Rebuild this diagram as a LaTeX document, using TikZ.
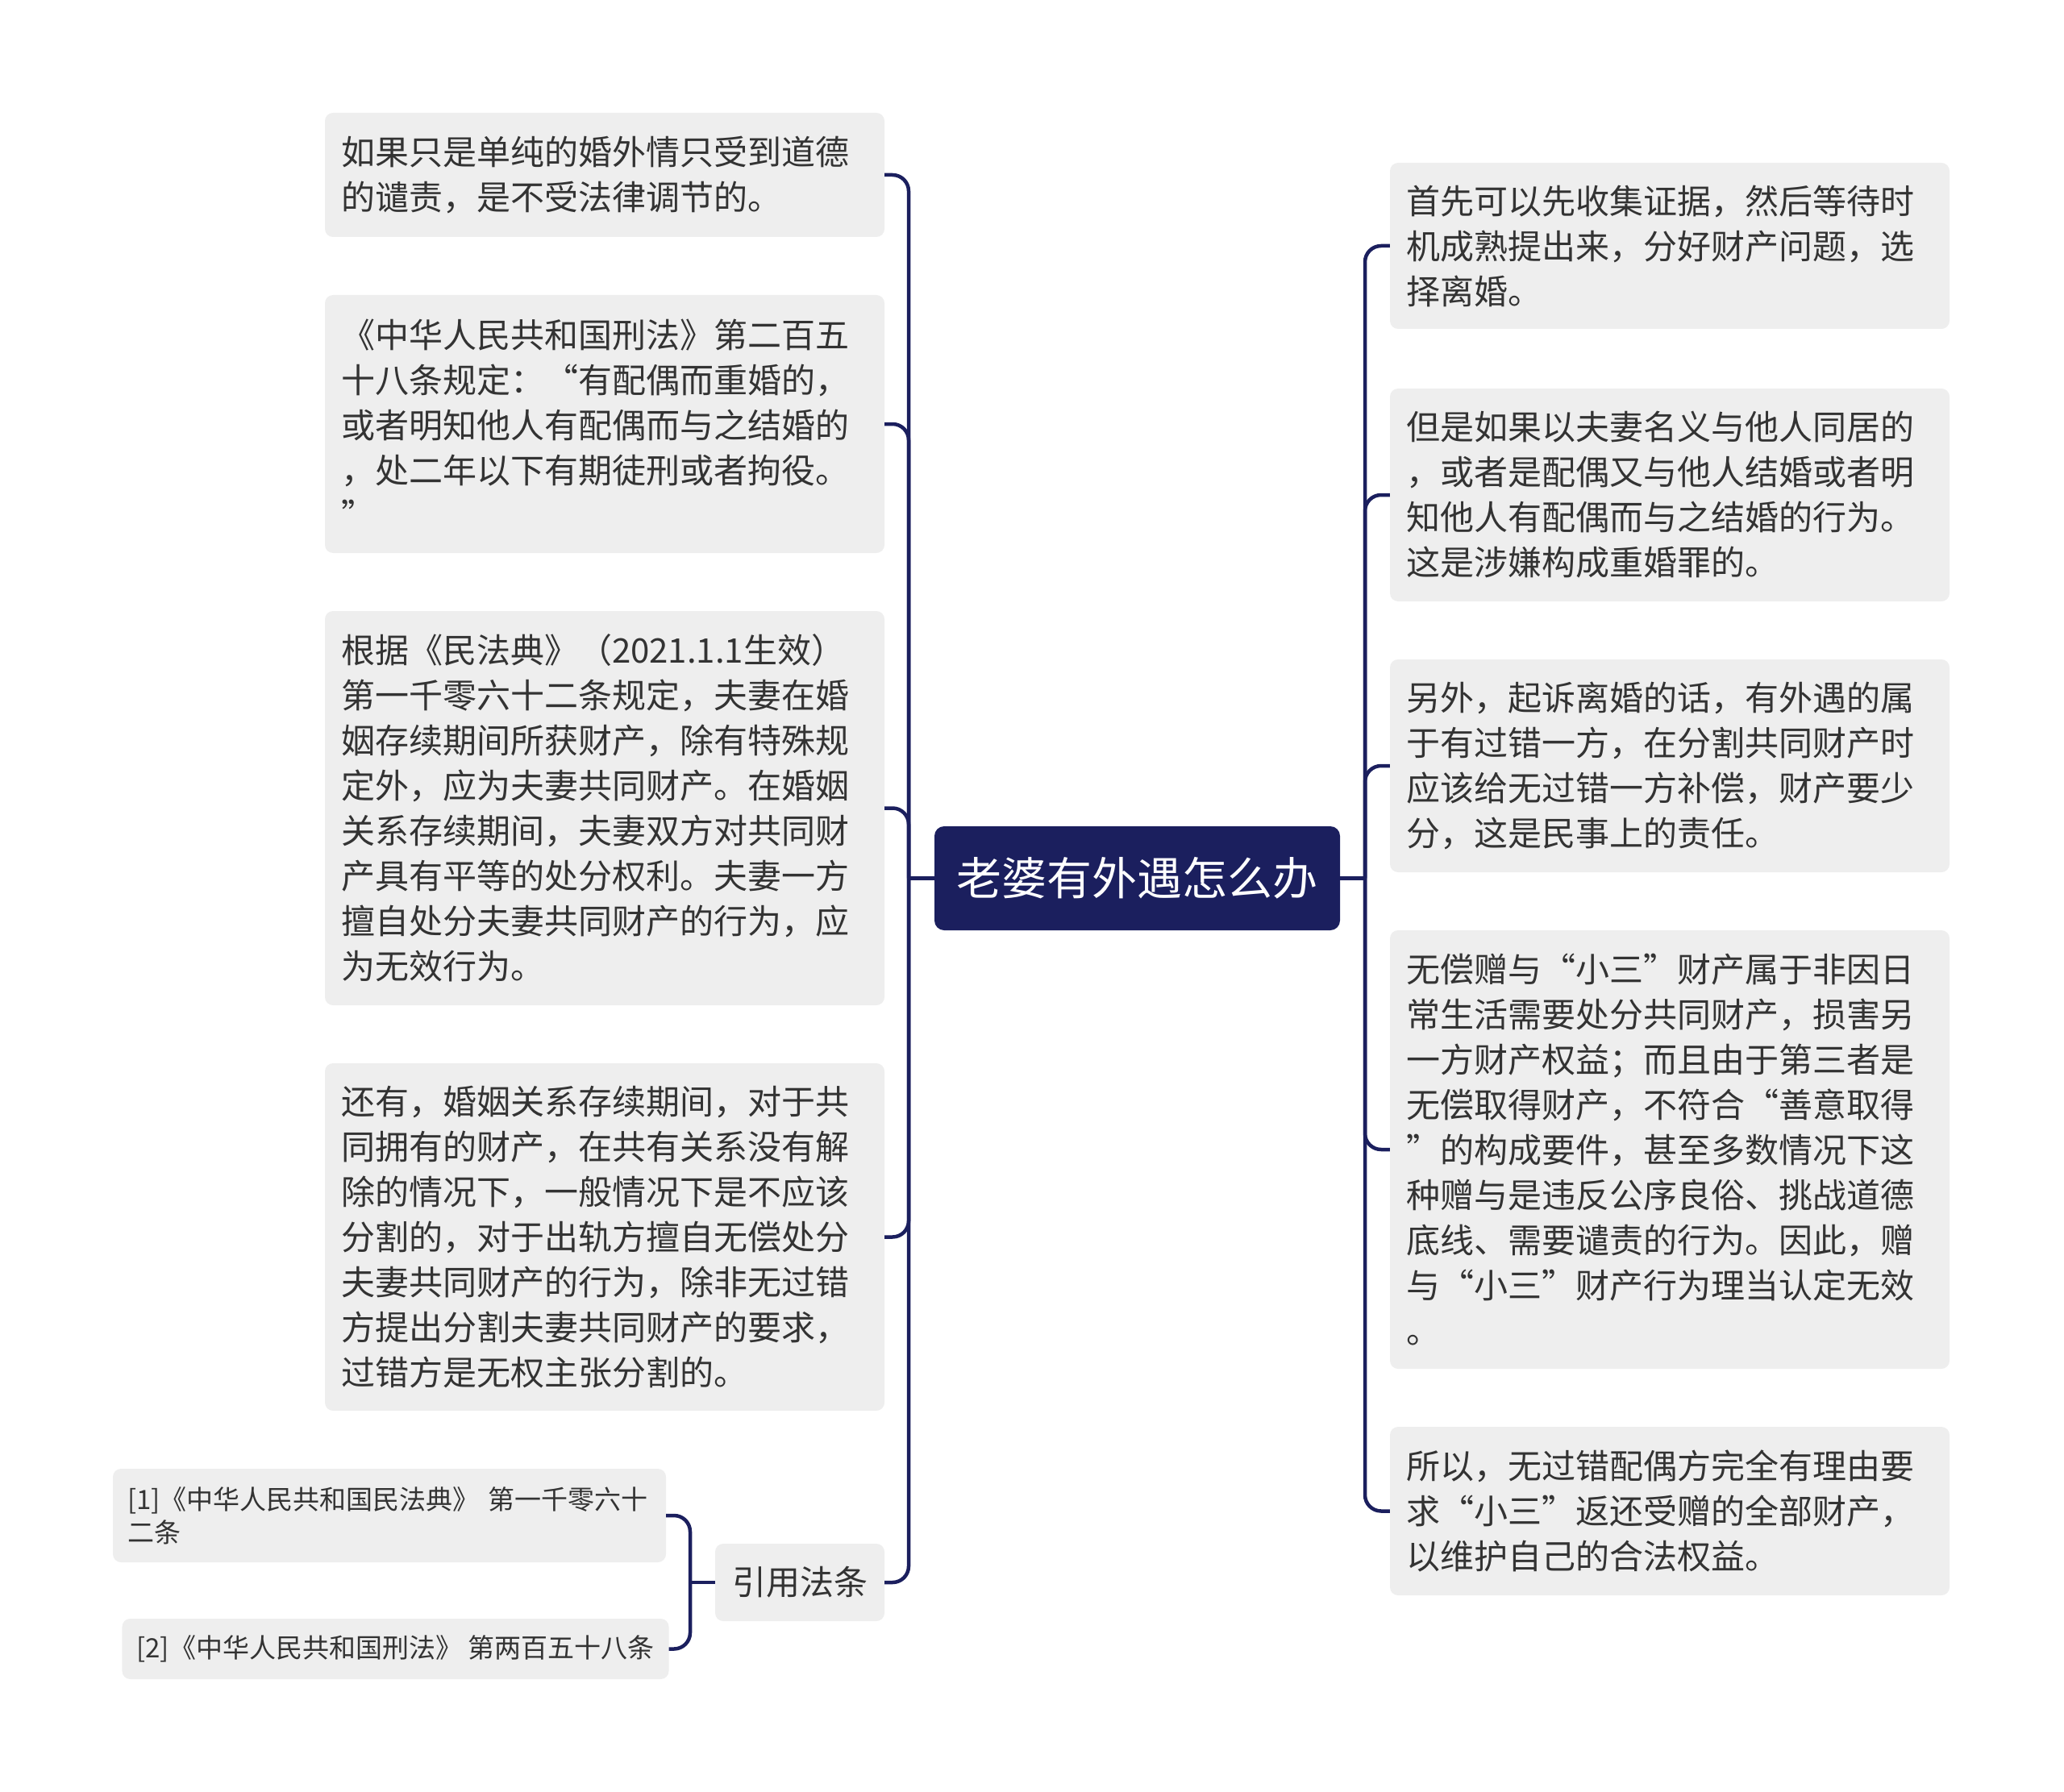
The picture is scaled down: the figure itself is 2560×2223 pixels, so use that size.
\documentclass[tikz,border=0pt]{standalone}
\usepackage{fontspec}
\newfontfamily\cjk{Noto Sans CJK SC}
\definecolor{navy}{HTML}{1B1F5E}
\definecolor{boxgray}{HTML}{EEEEEE}
\definecolor{txt}{HTML}{333333}
\begin{document}
\begin{tikzpicture}[x=1pt,y=-1pt,
  leaf/.style={fill=boxgray, rounded corners=10pt, inner xsep=20pt, inner ysep=0pt,
    text width=654pt, align=left, text=txt, font={\cjk\fontsize{42pt}{56pt}\selectfont}},
  refbox/.style={fill=boxgray, rounded corners=10pt, inner xsep=18pt, inner ysep=0pt,
    text=txt, font={\cjk\fontsize{33pt}{41pt}\selectfont}},
  rootbox/.style={fill=navy, rounded corners=12pt, text=white, minimum width=503pt,
    minimum height=129pt, inner sep=0pt, font={\cjk\fontsize{56pt}{60pt}\selectfont}},
  conn/.style={draw=navy, line width=4.5pt}]
\useasboundingbox (0,0) rectangle (2560,2223);

% root
\node[rootbox] (root) at (1410.5,1089.5) {老婆有外遇怎么办};

% left side
\node[leaf, minimum height=154pt] (L1) at (750,217)
 {如果只是单纯的婚外情只受到道德\\的谴责，是不受法律调节的。};
\node[leaf, minimum height=320pt] (L2) at (750,526)
 {《中华人民共和国刑法》第二百五\\十八条规定：“有配偶而重婚的，\\或者明知他人有配偶而与之结婚的\\，处二年以下有期徒刑或者拘役。\\”};
\node[leaf, minimum height=489pt] (L3) at (750,1002.5)
 {根据《民法典》（2021.1.1生效）\\第一千零六十二条规定，夫妻在婚\\姻存续期间所获财产，除有特殊规\\定外，应为夫妻共同财产。在婚姻\\关系存续期间，夫妻双方对共同财\\产具有平等的处分权利。夫妻一方\\擅自处分夫妻共同财产的行为，应\\为无效行为。};
\node[leaf, minimum height=431pt] (L4) at (750,1534.5)
 {还有，婚姻关系存续期间，对于共\\同拥有的财产，在共有关系没有解\\除的情况下，一般情况下是不应该\\分割的，对于出轨方擅自无偿处分\\夫妻共同财产的行为，除非无过错\\方提出分割夫妻共同财产的要求，\\过错方是无权主张分割的。};
\node[fill=boxgray, rounded corners=10pt, minimum width=210pt, minimum height=96pt,
  inner sep=0pt, text=txt, font={\cjk\fontsize{42pt}{50pt}\selectfont}] (cite) at (992,1963) {引用法条};
\node[refbox, text width=650pt, align=left, minimum height=116pt] (ref1) at (483,1880)
 {[1]《中华人民共和国民法典》~第一千零六十\\二条};
\node[refbox, minimum width=671pt, minimum height=75pt] (ref2) at (490.5,2045.5)
 {[2]《中华人民共和国刑法》~第两百五十八条};

% right side
\node[leaf, minimum height=206pt] (R1) at (2071,305)
 {首先可以先收集证据，然后等待时\\机成熟提出来，分好财产问题，选\\择离婚。};
\node[leaf, minimum height=264pt] (R2) at (2071,614)
 {但是如果以夫妻名义与他人同居的\\，或者是配偶又与他人结婚或者明\\知他人有配偶而与之结婚的行为。\\这是涉嫌构成重婚罪的。};
\node[leaf, minimum height=264pt] (R3) at (2071,950)
 {另外，起诉离婚的话，有外遇的属\\于有过错一方，在分割共同财产时\\应该给无过错一方补偿，财产要少\\分，这是民事上的责任。};
\node[leaf, minimum height=544pt] (R4) at (2071,1426)
 {无偿赠与“小三”财产属于非因日\\常生活需要处分共同财产，损害另\\一方财产权益；而且由于第三者是\\无偿取得财产，不符合“善意取得\\”的构成要件，甚至多数情况下这\\种赠与是违反公序良俗、挑战道德\\底线、需要谴责的行为。因此，赠\\与“小三”财产行为理当认定无效\\。};
\node[leaf, minimum height=209pt] (R5) at (2071,1874.5)
 {所以，无过错配偶方完全有理由要\\求“小三”返还受赠的全部财产，\\以维护自己的合法权益。};

% connectors
\coordinate (LT) at (1127,1089.5);
\coordinate (RT) at (1693,1089.5);
\coordinate (CT) at (856,1963);
\draw[conn] (root.west) -- (LT);
\draw[conn] (root.east) -- (RT);
\foreach \n in {L1,L2,L3,L4,cite} \draw[conn, rounded corners=20pt] (LT) |- (\n.east);
\foreach \n in {R1,R2,R3,R4,R5} \draw[conn, rounded corners=20pt] (RT) |- (\n.west);
\draw[conn] (cite.west) -- (CT);
\foreach \n in {ref1,ref2} \draw[conn, rounded corners=20pt] (CT) |- (\n.east);
\end{tikzpicture}
\end{document}
